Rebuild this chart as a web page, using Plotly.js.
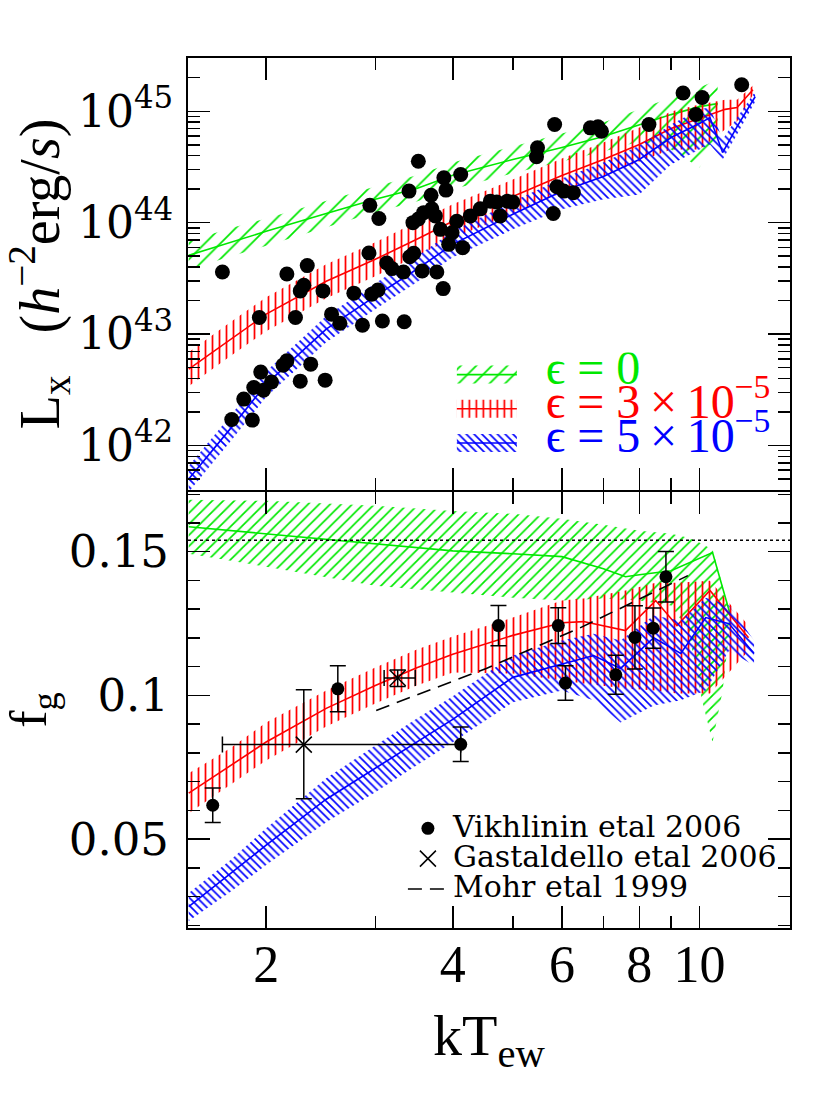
<!DOCTYPE html>
<html>
<head>
<meta charset="utf-8">
<script src="https://cdn.plot.ly/plotly-3.0.1.min.js"></script>
<style>html,body{margin:0;padding:0;background:#fff}</style>
</head>
<body>
<div id="chart" style="width:830px;height:1106px"></div>
<script>
// ---- top panel: Lx - T models (hatched bands) ----
var eps0_T    = [1.5, 1.75, 2, 2.5, 3, 3.5, 4, 5, 6, 7, 8, 9, 10, 10.7];
var eps0_Lx   = [5.09e43, 6.65e43, 8.36e43, 1.21e44, 1.62e44, 2.03e44, 2.66e44, 3.69e44, 4.73e44, 5.93e44, 7.60e44, 9.33e44, 1.10e45, 1.17e45];
var eps0_LxHi = [6.80e43, 8.89e43, 1.09e44, 1.58e44, 2.11e44, 2.66e44, 3.47e44, 4.83e44, 6.31e44, 7.92e44, 1.04e45, 1.33e45, 1.63e45, 1.92e45];
var eps0_LxLo = [3.81e43, 4.99e43, 6.26e43, 9.08e43, 1.24e44, 1.55e44, 1.99e44, 2.77e44, 3.54e44, 4.36e44, 5.35e44, 4.54e44, 3.13e44, 5.57e44];

var eps3_T    = [1.5, 1.75, 2, 2.5, 3, 3.5, 4, 5, 6, 7, 8, 9, 10, 11, 11.5, 12.2];
var eps3_Lx   = [4.85e42, 9.00e42, 1.51e43, 2.98e43, 4.69e43, 7.09e43, 1.03e44, 1.72e44, 2.65e44, 3.69e44, 5.03e44, 7.00e44, 8.60e44, 1.04e45, 1.08e45, 1.56e45];
var eps3_LxHi = [6.88e42, 1.28e43, 2.14e43, 4.23e43, 6.66e43, 1.01e44, 1.46e44, 2.44e44, 3.77e44, 5.24e44, 7.14e44, 9.94e44, 1.15e45, 1.27e45, 1.27e45, 1.70e45];
var eps3_LxLo = [3.41e42, 6.34e42, 1.06e43, 2.10e43, 3.30e43, 4.99e43, 7.23e43, 1.21e44, 1.87e44, 2.60e44, 3.54e44, 4.54e44, 4.54e44, 6.86e44, 8.09e44, 1.41e45];

var eps5_T    = [1.5, 1.75, 2, 2.5, 3, 3.5, 4, 5, 6, 7, 8, 9, 10, 10.4, 10.9, 11.5, 12.3];
var eps5_Lx   = [5.01e41, 1.41e42, 3.56e42, 1.11e43, 2.19e43, 3.82e43, 6.39e43, 1.19e44, 1.91e44, 2.60e44, 3.69e44, 5.81e44, 7.76e44, 8.78e44, 4.26e44, 7.29e44, 1.35e45];
var eps5_LxHi = [6.55e41, 1.84e42, 4.65e42, 1.45e43, 2.86e43, 4.99e43, 8.36e43, 1.55e44, 2.49e44, 3.47e44, 4.93e44, 7.60e44, 1.04e45, 1.08e45, 5.58e44, 8.78e44, 1.50e45];
var eps5_LxLo = [3.83e41, 1.08e42, 2.72e42, 8.46e42, 1.67e43, 2.92e43, 4.89e43, 8.71e43, 1.32e44, 1.62e44, 1.79e44, 3.33e44, 4.54e44, 5.03e44, 3.69e44, 6.18e44, 1.22e45];

// observed clusters
var clusterT  = [1.70, 2.16, 2.33, 2.30, 2.27, 2.47, 1.95, 2.23, 2.55, 2.63, 2.77, 2.86, 2.96, 3.03, 3.08, 3.34,
                 3.13, 3.19, 3.33, 3.41, 3.46, 3.57, 3.77, 3.86, 2.93, 4.15, 3.94, 2.13, 2.16, 1.96, 2.36, 1.91,
                 1.98, 2.04, 1.84, 2.27, 2.49, 1.76, 1.90, 3.52, 2.94, 3.04, 3.40, 3.69, 3.87, 4.12, 3.90, 3.59,
                 3.70, 3.75, 3.45, 3.52, 3.82, 4.06, 4.27, 3.99, 4.43, 11.7, 9.41, 10.1, 9.87, 8.29, 5.84, 6.67,
                 6.86, 6.95, 5.48, 5.46, 5.89, 6.04, 6.26, 5.81, 4.60, 4.71, 4.90, 5.00, 4.77];
var clusterLx = [3.61e43, 3.46e43, 4.12e43, 2.74e43, 2.44e43, 2.44e43, 1.41e43, 1.41e43, 1.51e43, 1.25e43, 2.33e43, 1.20e43, 2.28e43, 2.49e43, 1.31e43, 1.29e43,
                 4.35e43, 3.87e43, 3.61e43, 4.94e43, 5.31e43, 3.68e43, 3.61e43, 2.56e43, 5.34e43, 5.97e43, 6.39e43, 5.26e42, 5.75e42, 4.56e42, 5.37e42, 3.32e42,
                 3.14e42, 3.71e42, 2.61e42, 3.78e42, 3.86e42, 1.71e42, 1.69e42, 3.56e44, 1.43e44, 1.09e44, 1.92e44, 1.76e44, 2.53e44, 2.71e44, 1.96e44, 1.23e44,
                 1.33e44, 1.15e44, 1.00e44, 1.08e44, 8.71e43, 1.03e44, 1.15e44, 8.13e43, 1.33e44, 1.73e45, 1.46e45, 1.33e45, 9.34e44, 7.60e44, 7.60e44, 7.10e44,
                 7.25e44, 6.62e44, 4.70e44, 3.90e44, 2.10e44, 1.92e44, 1.86e44, 1.21e44, 1.56e44, 1.53e44, 1.56e44, 1.53e44, 1.15e44];

// ---- bottom panel: gas fraction ----
var eps0_fT   = [1.5, 2, 3, 4, 5, 6, 7, 8, 9, 9.6, 10.1, 10.5, 10.9, 11.2];
var eps0_fHi  = [0.1681, 0.1677, 0.1660, 0.1642, 0.1632, 0.1615, 0.1594, 0.1573, 0.1563, 0.1549, 0.1528, 0.1507, 0.1382, 0.1271];
var eps0_fLo  = [0.1493, 0.1448, 0.1382, 0.1358, 0.1340, 0.1330, 0.1337, 0.1330, 0.1313, 0.1226, 0.0983, 0.0837, 0.1017, 0.1243];
var eps0_lineT = [1.5, 2, 3, 4, 5, 6, 7, 7.6, 8, 9, 10.5, 11.2];
var eps0_f     = [0.1587, 0.1563, 0.1528, 0.1503, 0.1493, 0.1483, 0.1441, 0.1413, 0.1420, 0.1434, 0.1497, 0.1285];

var eps3_fT  = [1.5, 1.75, 2, 2.5, 3, 3.5, 4, 5, 6, 6.5, 7.6, 8.5, 9.2, 10.4, 12];
var eps3_f   = [0.0660, 0.0755, 0.0838, 0.0955, 0.1035, 0.1096, 0.1143, 0.1209, 0.1253, 0.1257, 0.1226, 0.1330, 0.1243, 0.1365, 0.1201];
var eps3_fHi = [0.0729, 0.0816, 0.0906, 0.1017, 0.1097, 0.1160, 0.1205, 0.1271, 0.1330, 0.1337, 0.1365, 0.1392, 0.1392, 0.1399, 0.1243];
var eps3_fLo = [0.0590, 0.0688, 0.0774, 0.0892, 0.0972, 0.1035, 0.1080, 0.1076, 0.1052, 0.1042, 0.1024, 0.1017, 0.1007, 0.1007, 0.1156];

var eps5_fT  = [1.5, 1.75, 2, 2.5, 3, 3.5, 4, 5, 6, 6.75, 7.46, 8.44, 9.33, 10.24, 11.16, 12.25];
var eps5_f   = [0.0265, 0.0378, 0.0479, 0.0639, 0.0747, 0.0840, 0.0917, 0.1063, 0.1108, 0.1139, 0.1094, 0.1201, 0.1146, 0.1271, 0.1250, 0.1146];
var eps5_fHi = [0.0313, 0.0427, 0.0538, 0.0712, 0.0826, 0.0920, 0.0997, 0.1139, 0.1191, 0.1215, 0.1191, 0.1278, 0.1260, 0.1340, 0.1313, 0.1191];
var eps5_fLo = [0.0215, 0.0316, 0.0410, 0.0559, 0.0663, 0.0757, 0.0837, 0.0976, 0.1017, 0.0983, 0.0906, 0.0965, 0.0983, 0.1017, 0.1156, 0.1104];

var vikhT    = [1.64, 2.61, 4.12, 4.74, 5.92, 6.08, 7.33, 7.87, 8.42, 8.83];
var vikhF    = [0.0618, 0.1023, 0.0830, 0.1243, 0.1243, 0.1043, 0.1072, 0.1202, 0.1234, 0.1413];
var vikhFerr = [0.0060, 0.0080, 0.0060, 0.0070, 0.0062, 0.0060, 0.0068, 0.0110, 0.0070, 0.0088];

var gastT      = [2.30, 3.26];
var gastTplus  = [1.82, 0.22];
var gastTminus = [0.60, 0.16];
var gastF      = [0.0829, 0.1061];
var gastFplus  = [0.0191, 0.0028];
var gastFminus = [0.0188, 0.0030];

var mohrT = [3.01, 4.53, 6.43, 9.58];
var mohrF = [0.0948, 0.1094, 0.1236, 0.1417];

var cosmicFb = 0.154;

var green = '#00e800', red = '#ff0000', blue = '#0000ff';

function band(xs, lo, hi) {
  return {x: xs.concat(xs.slice().reverse()), y: hi.concat(lo.slice().reverse())};
}

function hatched(xs, lo, hi, color, shape, size, sol, axes, extra) {
  var b = band(xs, lo, hi);
  var t = {
    x: b.x, y: b.y, xaxis: axes[0], yaxis: axes[1],
    type: 'scatter', mode: 'lines', fill: 'toself',
    line: {width: 0, color: color},
    fillcolor: 'rgba(0,0,0,0)',
    fillpattern: {shape: shape, fgcolor: color, bgcolor: 'rgba(0,0,0,0)', size: size, solidity: sol},
    hoverinfo: 'skip', showlegend: false
  };
  for (var k in extra) t[k] = extra[k];
  return t;
}

function centre(xs, ys, color, axes) {
  return {x: xs, y: ys, xaxis: axes[0], yaxis: axes[1], type: 'scatter', mode: 'lines',
          line: {color: color, width: 1.6}, showlegend: false, hoverinfo: 'skip'};
}

var upperAx = ['x2', 'y2'], lowerAx = ['x', 'y'];
var nb = '\u00a0', th = '\u2009';
var lab = function (c, s) { return '<span style="color:' + c + ';font-size:48px">' + nb + nb + s + '</span>'; };
var small = function (s) { return '<span style="font-size:30px">' + s + '</span>'; };

var data = [
  hatched(eps0_T, eps0_LxLo, eps0_LxHi, green, '/', 11, 0.16, upperAx, {showlegend: true, name: lab(green, 'ϵ = 0'), legend: 'legend'}),
  centre(eps0_T, eps0_Lx, green, upperAx),
  hatched(eps3_T, eps3_LxLo, eps3_LxHi, red, '|', 7, 0.25, upperAx, {showlegend: true, name: lab(red, 'ϵ = 3' + th + '×' + th + '10<sup>−5</sup>'), legend: 'legend'}),
  centre(eps3_T, eps3_Lx, red, upperAx),
  hatched(eps5_T, eps5_LxLo, eps5_LxHi, blue, '\\', 5.5, 0.3, upperAx, {showlegend: true, name: lab(blue, 'ϵ = 5' + th + '×' + th + '10<sup>−5</sup>'), legend: 'legend'}),
  centre(eps5_T, eps5_Lx, blue, upperAx),
  {x: clusterT, y: clusterLx, xaxis: 'x2', yaxis: 'y2', type: 'scatter', mode: 'markers',
   marker: {color: 'black', size: 15}, showlegend: false},

  hatched(eps0_fT, eps0_fLo, eps0_fHi, green, '/', 7.8, 0.22, lowerAx, {}),
  centre(eps0_lineT, eps0_f, green, lowerAx),
  hatched(eps3_fT, eps3_fLo, eps3_fHi, red, '|', 7, 0.25, lowerAx, {}),
  centre(eps3_fT, eps3_f, red, lowerAx),
  hatched(eps5_fT, eps5_fLo, eps5_fHi, blue, '\\', 5.5, 0.3, lowerAx, {}),
  centre(eps5_fT, eps5_f, blue, lowerAx),

  {x: mohrT, y: mohrF, type: 'scatter', mode: 'lines', name: small('Mohr etal 1999'),
   line: {color: 'black', width: 1.6, dash: '14px,8px'}, legend: 'legend2', legendrank: 3},
  {x: vikhT, y: vikhF, type: 'scatter', mode: 'markers', name: small('Vikhlinin etal 2006'),
   marker: {color: 'black', size: 13},
   error_y: {type: 'data', array: vikhFerr, color: 'black', thickness: 1.5, width: 8},
   legend: 'legend2', legendrank: 1},
  {x: gastT, y: gastF, type: 'scatter', mode: 'markers', name: small('Gastaldello etal 2006'),
   marker: {symbol: 'x-thin-open', color: 'black', size: 16, line: {color: 'black', width: 1.5}},
   error_y: {type: 'data', symmetric: false, array: gastFplus, arrayminus: gastFminus, color: 'black', thickness: 1.5, width: 8},
   error_x: {type: 'data', symmetric: false, array: gastTplus, arrayminus: gastTminus, color: 'black', thickness: 1.5, width: 8},
   legend: 'legend2', legendrank: 2}
];

var axisStyle = {
  showline: true, linecolor: 'black', linewidth: 2, mirror: 'allticks',
  ticks: 'inside', ticklen: 22, tickwidth: 1.5, tickcolor: 'black',
  showgrid: false, zeroline: false
};
function ax(o) { var a = {}; for (var k in axisStyle) a[k] = axisStyle[k]; for (var j in o) a[j] = o[j]; return a; }

var lxMinor = [];
for (var e = 41; e <= 45; e++) for (var m = 2; m <= 9; m++) lxMinor.push(m * Math.pow(10, e));

var xRange = [Math.log10(1.496), Math.log10(14.0)];
var xMinor = {tickmode: 'array', tickvals: [3, 5, 7, 9], ticks: 'inside', ticklen: 12, tickwidth: 1.5, tickcolor: 'black'};
var serif = 'Liberation Serif, serif', wide = 'DejaVu Serif, serif';

var layout = {
  width: 830, height: 1106,
  margin: {l: 188, r: 40, t: 58, b: 178},
  paper_bgcolor: 'white', plot_bgcolor: 'rgba(0,0,0,0)',
  font: {family: serif, color: 'black', size: 24},
  xaxis: ax({type: 'log', range: xRange, anchor: 'y', domain: [0, 1],
    tickvals: [2, 4, 6, 8, 10], ticktext: ['2', '4', '6', '8', '10'], tickfont: {size: 52},
    ticklabelstandoff: -10, minor: xMinor,
    title: {text: 'kT<sub>ew</sub>', font: {size: 58}, standoff: 22}}),
  xaxis2: ax({type: 'log', range: xRange, anchor: 'y2', matches: 'x', showticklabels: false,
    tickvals: [2, 4, 6, 8, 10], minor: xMinor}),
  yaxis: ax({domain: [0, 0.5012], range: [0.0191, 0.1708], anchor: 'x',
    tickvals: [0.05, 0.1, 0.15], ticktext: ['0.05', '0.1', '0.15'], tickfont: {size: 45, family: wide},
    ticklabelstandoff: 8,
    minor: {dtick: 0.01, tick0: 0, ticks: 'inside', ticklen: 12, tickwidth: 1.5, tickcolor: 'black'},
    title: {text: 'f<sub>g</sub>', font: {size: 52}, standoff: 30}}),
  yaxis2: ax({type: 'log', domain: [0.5035, 1], range: [41.601, 45.478], anchor: 'x2',
    tickvals: [1e42, 1e43, 1e44, 1e45],
    ticktext: ['10<sup>42</sup>', '10<sup>43</sup>', '10<sup>44</sup>', '10<sup>45</sup>'], tickfont: {size: 44, family: wide},
    ticklabelstandoff: 4,
    minor: {tickmode: 'array', tickvals: lxMinor, ticks: 'inside', ticklen: 12, tickwidth: 1.5, tickcolor: 'black'},
    title: {text: 'L<sub>x</sub>' + nb + nb + nb + '(<i>h</i><sup>−2</sup>erg/<i>s</i>)', font: {size: 56}, standoff: 18}}),
  shapes: [{type: 'line', xref: 'paper', x0: 0, x1: 1, yref: 'y', y0: cosmicFb, y1: cosmicFb,
            line: {color: 'black', width: 1.5, dash: 'dot'}}],
  legend: {x: 0.4383, y: 0.6615, xanchor: 'left', yanchor: 'top', bgcolor: 'rgba(0,0,0,0)',
           font: {size: 24}, itemwidth: 60, tracegroupgap: 0},
  legend2: {x: 0.357, y: 0.1377, xanchor: 'left', yanchor: 'top', bgcolor: 'rgba(0,0,0,0)',
            font: {size: 21, family: wide}, itemwidth: 40, tracegroupgap: 0}
};

Plotly.newPlot('chart', data, layout, {staticPlot: true}).then(function (gd) {
  // taller hatched swatches with the model line through them
  var leg = gd.querySelector('.legend');
  if (leg) {
    leg.querySelectorAll('.legendfill path').forEach(function (p) { p.setAttribute('d', 'M5,-9h60v18h-60z'); });
    leg.querySelectorAll('.legendlines path').forEach(function (p) {
      p.setAttribute('d', 'M5,0h60'); p.style.strokeWidth = '1.6px';
    });
  }
});
</script>
</body>
</html>
